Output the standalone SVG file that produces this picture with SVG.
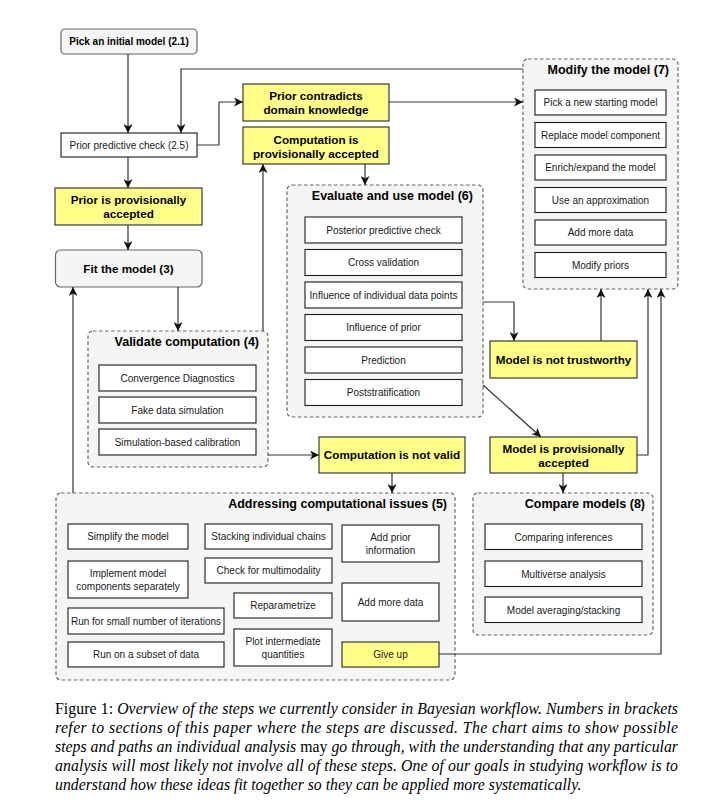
<svg xmlns="http://www.w3.org/2000/svg" width="728" height="805" viewBox="0 0 728 805">
<style>
.grp{fill:#f5f5f5;stroke:#666666;stroke-width:1.2;stroke-dasharray:3.5,2.5}
.gray{fill:#f5f5f5;stroke:#666666;stroke-width:1.2}
.yel{fill:#ffff88;stroke:#36393d;stroke-width:1.2}
.box{fill:#ffffff;stroke:#1a1a1a;stroke-width:1.1}
.t{font-family:"Liberation Sans",Arial,sans-serif;font-size:10px;fill:#1a1a1a;text-anchor:middle}
.b{font-family:"Liberation Sans",Arial,sans-serif;font-size:11.7px;font-weight:bold;fill:#000;text-anchor:middle}
.h{font-family:"Liberation Sans",Arial,sans-serif;font-size:12.5px;font-weight:bold;fill:#000;text-anchor:end}
.c{font-family:"Liberation Serif","Times New Roman",serif;font-size:15.8px;fill:#000}
.i{font-style:italic}
.con path{fill:none;stroke:#333333;stroke-width:1.2}
</style>
<defs>
<marker id="ah" markerUnits="userSpaceOnUse" markerWidth="10" markerHeight="9" refX="9" refY="4.5" orient="auto">
<path d="M0,0 L9,4.5 L0,9 L2.5,4.5 z" fill="#111"/>
</marker>
</defs>
<rect x="0" y="0" width="728" height="805" fill="#ffffff"/>

<g id="modify">
<rect class="grp" x="523" y="59" width="155" height="230" rx="5"/>
<text class="h" x="669" y="73.5">Modify the model (7)</text>
<rect class="box" x="535" y="90" width="131" height="25"/><text class="t" x="600.5" y="106">Pick a new starting model</text>
<rect class="box" x="535" y="122.5" width="131" height="25"/><text class="t" x="600.5" y="138.5">Replace model component</text>
<rect class="box" x="535" y="155" width="131" height="25"/><text class="t" x="600.5" y="171">Enrich/expand the model</text>
<rect class="box" x="535" y="187.5" width="131" height="25"/><text class="t" x="600.5" y="203.5">Use an approximation</text>
<rect class="box" x="535" y="220" width="131" height="25"/><text class="t" x="600.5" y="236">Add more data</text>
<rect class="box" x="535" y="252.5" width="131" height="25"/><text class="t" x="600.5" y="268.5">Modify priors</text>
</g>

<g id="evaluate">
<rect class="grp" x="287" y="185" width="196" height="232" rx="5"/>
<text class="h" x="473" y="200">Evaluate and use model (6)</text>
<rect class="box" x="305" y="217" width="157" height="26"/><text class="t" x="383.5" y="233.5">Posterior predictive check</text>
<rect class="box" x="305" y="249.5" width="157" height="26"/><text class="t" x="383.5" y="266">Cross validation</text>
<rect class="box" x="305" y="282" width="157" height="26"/><text class="t" x="383.5" y="298.5">Influence of individual data points</text>
<rect class="box" x="305" y="314.5" width="157" height="26"/><text class="t" x="383.5" y="331">Influence of prior</text>
<rect class="box" x="305" y="347" width="157" height="26"/><text class="t" x="383.5" y="363.5">Prediction</text>
<rect class="box" x="305" y="379.5" width="157" height="26"/><text class="t" x="383.5" y="396">Poststratification</text>
</g>

<g id="validate">
<rect class="grp" x="88" y="331" width="180" height="136" rx="5"/>
<text class="h" x="259" y="345.5">Validate computation (4)</text>
<rect class="box" x="99" y="365" width="157" height="26"/><text class="t" x="177.5" y="381.5">Convergence Diagnostics</text>
<rect class="box" x="99" y="397" width="157" height="26"/><text class="t" x="177.5" y="413.5">Fake data simulation</text>
<rect class="box" x="99" y="429" width="157" height="26"/><text class="t" x="177.5" y="445.5">Simulation-based calibration</text>
</g>

<g id="addressing">
<rect class="grp" x="56" y="493" width="399" height="187" rx="5"/>
<text class="h" x="447" y="508">Addressing computational issues (5)</text>
<rect class="box" x="68" y="524" width="120" height="25"/><text class="t" x="128" y="540">Simplify the model</text>
<rect class="box" x="68" y="561" width="120" height="37"/><text class="t" x="128" y="577">Implement model</text><text class="t" x="128" y="590">components separately</text>
<rect class="box" x="68" y="608" width="156" height="26"/><text class="t" x="146" y="624.5">Run for small number of iterations</text>
<rect class="box" x="68" y="642" width="156" height="25"/><text class="t" x="146" y="658">Run on a subset of data</text>
<rect class="box" x="205" y="524" width="127" height="25"/><text class="t" x="268.5" y="540">Stacking individual chains</text>
<rect class="box" x="205" y="558" width="127" height="25"/><text class="t" x="268.5" y="574">Check for multimodality</text>
<rect class="box" x="234" y="593" width="98" height="25"/><text class="t" x="283" y="609">Reparametrize</text>
<rect class="box" x="234" y="629" width="98" height="37"/><text class="t" x="283" y="645">Plot intermediate</text><text class="t" x="283" y="658">quantities</text>
<rect class="box" x="342" y="525" width="97" height="37"/><text class="t" x="390.5" y="541">Add prior</text><text class="t" x="390.5" y="554">information</text>
<rect class="box" x="342" y="583" width="97" height="38"/><text class="t" x="390.5" y="605.5">Add more data</text>
<rect class="yel" x="342" y="642" width="97" height="25"/><text class="t" x="390.5" y="658">Give up</text>
</g>

<g id="compare">
<rect class="grp" x="473" y="493" width="180" height="142" rx="5"/>
<text class="h" x="645" y="508">Compare models (8)</text>
<rect class="box" x="485" y="524" width="157" height="25.5"/><text class="t" x="563.5" y="540.5">Comparing inferences</text>
<rect class="box" x="485" y="561" width="157" height="25.5"/><text class="t" x="563.5" y="577.5">Multiverse analysis</text>
<rect class="box" x="485" y="597" width="157" height="25.5"/><text class="t" x="563.5" y="613.5">Model averaging/stacking</text>
</g>

<g id="pick">
<rect class="gray" x="61" y="29" width="136" height="25" rx="4"/>
<text class="b" x="129" y="45" style="font-size:10px">Pick an initial model (2.1)</text>
</g>
<g id="ppc">
<rect class="box" x="61" y="133" width="136" height="24"/>
<text class="t" x="129" y="148.5">Prior predictive check (2.5)</text>
</g>
<g id="prior-accepted">
<rect class="yel" x="55" y="188" width="147" height="37"/>
<text class="b" x="128.5" y="204">Prior is provisionally</text>
<text class="b" x="128.5" y="218">accepted</text>
</g>
<g id="fit">
<rect class="gray" x="55.5" y="250" width="146.5" height="37" rx="5"/>
<text class="b" x="128.5" y="272.5">Fit the model (3)</text>
</g>
<g id="prior-contradicts">
<rect class="yel" x="243" y="84" width="146" height="37"/>
<text class="b" x="316" y="100">Prior contradicts</text>
<text class="b" x="316" y="114">domain knowledge</text>
</g>
<g id="comp-accepted">
<rect class="yel" x="243" y="127" width="146" height="37"/>
<text class="b" x="316" y="143.5">Computation is</text>
<text class="b" x="316" y="157.5">provisionally accepted</text>
</g>
<g id="comp-not-valid">
<rect class="yel" x="319" y="437" width="146" height="36"/>
<text class="b" x="392" y="459">Computation is not valid</text>
</g>
<g id="not-trustworthy">
<rect class="yel" x="490" y="341" width="147" height="37"/>
<text class="b" x="563.5" y="363.5">Model is not trustworthy</text>
</g>
<g id="model-accepted">
<rect class="yel" x="490" y="437" width="147" height="36"/>
<text class="b" x="563.5" y="453">Model is provisionally</text>
<text class="b" x="563.5" y="467">accepted</text>
</g>

<g id="connectors" class="con">
<path d="M128,54 V133" marker-end="url(#ah)"/>
<path d="M128,157 V188" marker-end="url(#ah)"/>
<path d="M128,225 V250" marker-end="url(#ah)"/>
<path d="M197,145 H219 V102 H243" marker-end="url(#ah)"/>
<path d="M389,102 H523" marker-end="url(#ah)"/>
<path d="M523,69 H181 V133" marker-end="url(#ah)"/>
<path d="M178,287 V331" marker-end="url(#ah)"/>
<path d="M263,331 V164" marker-end="url(#ah)"/>
<path d="M365,164 V185" marker-end="url(#ah)"/>
<path d="M268,455 H319" marker-end="url(#ah)"/>
<path d="M392,473 V493" marker-end="url(#ah)"/>
<path d="M73,493 V287" marker-end="url(#ah)"/>
<path d="M483,302 H514 V341" marker-end="url(#ah)"/>
<path d="M483,385 L541,437" marker-end="url(#ah)"/>
<path d="M601,341 V289" marker-end="url(#ah)"/>
<path d="M637,455 H648 V289" marker-end="url(#ah)"/>
<path d="M563,473 V493" marker-end="url(#ah)"/>
<path d="M439,654 H661 V289" marker-end="url(#ah)"/>
</g>

<g id="caption">
<text class="c" x="55" y="714" textLength="623" lengthAdjust="spacing">Figure 1: <tspan class="i">Overview of the steps we currently consider in Bayesian workflow. Numbers in brackets</tspan></text>
<text class="c i" x="55" y="733" textLength="623" lengthAdjust="spacing">refer to sections of this paper where the steps are discussed.  The chart aims to show possible</text>
<text class="c" x="55" y="752" textLength="623" lengthAdjust="spacing"><tspan class="i">steps and paths an individual analysis </tspan>may<tspan class="i"> go through, with the understanding that any particular</tspan></text>
<text class="c i" x="55" y="771" textLength="623" lengthAdjust="spacing">analysis will most likely not involve all of these steps. One of our goals in studying workflow is to</text>
<text class="c i" x="55" y="790">understand how these ideas fit together so they can be applied more systematically.</text>
</g>
</svg>
